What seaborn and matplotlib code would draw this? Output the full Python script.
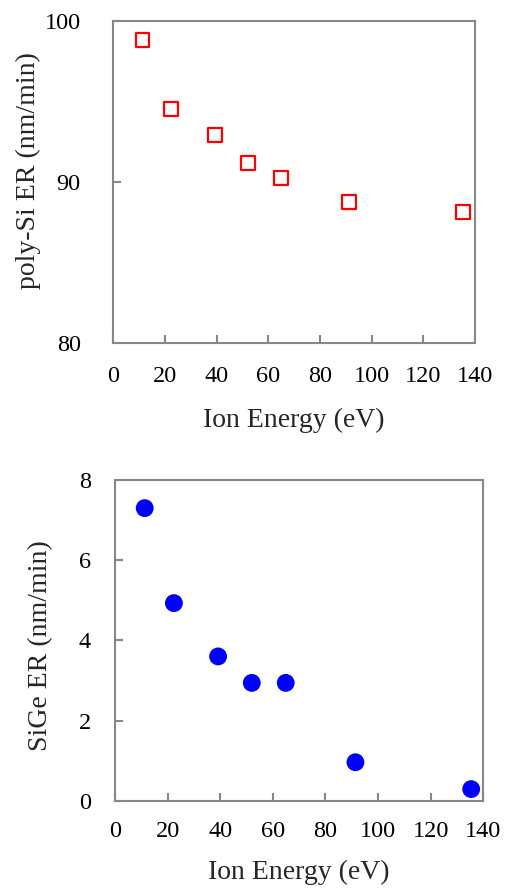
import matplotlib
matplotlib.use("Agg")
import matplotlib.pyplot as plt
import seaborn as sns
import pandas as pd

ion_energy = [11.3, 22.4, 39.2, 52.0, 64.9, 91.4, 135.4]
poly_si_er = [98.8, 94.5, 92.9, 91.2, 90.27, 88.76, 88.14]
sige_er = [7.30, 4.93, 3.60, 2.94, 2.94, 0.96, 0.29]

xticks = [0, 20, 40, 60, 80, 100, 120, 140]
yticks_top = [80, 90, 100]
yticks_bot = [0, 2, 4, 6, 8]

df = pd.DataFrame({"Ion Energy (eV)": ion_energy,
                   "poly-Si ER (nm/min)": poly_si_er,
                   "SiGe ER (nm/min)": sige_er})

sns.set_theme(style="white")
plt.rcParams['font.family'] = ['Liberation Serif', 'DejaVu Serif']

fig = plt.figure(figsize=(5.09, 8.89), dpi=100)
ax1 = fig.add_axes([0.2226, 0.6138, 0.7106, 0.3629])
ax2 = fig.add_axes([0.2259, 0.0993, 0.7236, 0.3607])

sns.scatterplot(data=df, x="Ion Energy (eV)", y="poly-Si ER (nm/min)", ax=ax1,
                marker="s", s=100, facecolor="none", edgecolor="#ff0000", linewidth=1.6)
sns.scatterplot(data=df, x="Ion Energy (eV)", y="SiGe ER (nm/min)", ax=ax2,
                marker="o", s=165, color="#0000ff", edgecolor="none")

settings = [
    # ax, yticks, x pad, y pad, xlabelpad, ylabel coords
    (ax1, yticks_top, 16.5, 23.5, 14.5, (-0.200, 0.537)),
    (ax2, yticks_bot, 14.5, 17.3, 13.0, (-0.168, 0.484)),
]

for ax, yt, xpad, ypad, xlp, ylc in settings:
    ax.set_xlim(0, 140)
    ax.set_ylim(yt[0], yt[-1])
    ax.set_xticks(xticks)
    ax.set_yticks(yt)
    for sp in ax.spines.values():
        sp.set_visible(True)
        sp.set_color("#888888")
        sp.set_linewidth(1.5)
    ax.tick_params(axis="both", which="major", direction="in", length=6, width=1.5,
                   color="#888888", labelsize=17.5, labelcolor="black",
                   left=True, bottom=True, top=False, right=False)
    ax.tick_params(axis="x", pad=xpad)
    ax.tick_params(axis="y", pad=ypad)
    ax.xaxis.label.set_size(20)
    ax.yaxis.label.set_size(20)
    ax.xaxis.labelpad = xlp
    ax.yaxis.set_label_coords(*ylc)
    ax.grid(False)

fig.savefig("out.png", dpi=100, facecolor="white")
